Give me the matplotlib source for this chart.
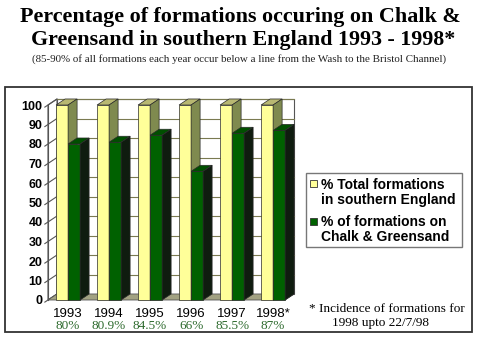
import matplotlib
matplotlib.use('Agg')
import matplotlib.pyplot as plt
from matplotlib.patches import Polygon, Rectangle
from matplotlib.lines import Line2D
from matplotlib.transforms import blended_transform_factory

# ---- data ----
years = ['1993', '1994', '1995', '1996', '1997', '1998*']
total_pct = [100, 100, 100, 100, 100, 100]
chalk_pct = [80, 80.9, 84.5, 66, 85.5, 87]
chalk_labels = ['80%', '80.9%', '84.5%', '66%', '85.5%', '87%']
yticks = list(range(0, 101, 10))
series_names = ['% Total formations\nin southern England',
                '% of formations on\nChalk & Greensand']

W, H = 480, 337
fig = plt.figure(figsize=(W / 100, H / 100), dpi=100)
fig.patch.set_facecolor('white')


def fx(px):
    return px / W


def fy(py):
    return 1 - py / H


SANS = 'Liberation Sans'
SERIF = 'Liberation Serif'

# ---- titles ----
fig.text(fx(240), fy(17), 'Percentage of formations occuring on Chalk &',
         ha='center', va='center', family=SERIF, weight='bold', fontsize=15.8)
fig.text(fx(243), fy(40), 'Greensand in southern England 1993 - 1998*',
         ha='center', va='center', family=SERIF, weight='bold', fontsize=15.8)
fig.text(fx(239), fy(59), '(85-90% of all formations each year occur below a line '
         'from the Wash to the Bristol Channel)',
         ha='center', va='center', family=SERIF, fontsize=7.9, color='#222222')

# ---- outer frame ----
fig.patches.append(Rectangle((fx(5), fy(332)), fx(472) - fx(5), fy(87) - fy(332),
                             transform=fig.transFigure, fill=False,
                             edgecolor='#333333', linewidth=1.3))

# ---- 3-D style column chart ----
ax = fig.add_axes([fx(48), fy(300), 237 / W, 195 / H])
xmin, xmax = -0.49, 5.29
ax.set_xlim(xmin, xmax)
ax.set_ylim(0, 100)
for s in ax.spines.values():
    s.set_visible(False)
ax.patch.set_visible(False)

# depth offset expressed in data units (9 px right, 6 px up)
ax_w_px = 237.0
ax_h_px = 195.0
dx = 9 * (xmax - xmin) / ax_w_px
dy = 6 * 100 / ax_h_px

edge = '#2a2a2a'
grid_c = '#7a7a50'

# back wall
ax.add_patch(Rectangle((xmin + dx, dy), xmax - xmin, 100, facecolor='white',
                       edgecolor='#555555', linewidth=0.8, zorder=1, clip_on=False))
# side wall
ax.add_patch(Polygon([(xmin, 0), (xmin + dx, dy), (xmin + dx, 100 + dy), (xmin, 100)],
                     closed=True, facecolor='white', edgecolor='#555555',
                     linewidth=0.8, zorder=1, clip_on=False))
# floor
ax.add_patch(Polygon([(xmin, 0), (xmax, 0), (xmax + dx, dy), (xmin + dx, dy)],
                     closed=True, facecolor='#a2a282', edgecolor='#555555',
                     linewidth=0.6, zorder=1.5, clip_on=False))

# gridlines on back wall and side wall
for t in yticks[1:]:
    ax.add_line(Line2D([xmin + dx, xmax + dx], [t + dy, t + dy], color=grid_c,
                       linewidth=0.8, zorder=1.2, clip_on=False))
for t in yticks:
    ax.add_line(Line2D([xmin - 0.35 * dx, xmin + dx], [t - 0.35 * dy, t + dy],
                       color='#555555', linewidth=0.8, zorder=1.2, clip_on=False))
ax.add_line(Line2D([xmin, xmin], [0, 100], color='#555555', linewidth=0.8,
                   zorder=1.2, clip_on=False))

bw = 0.293


def bar3d(x0, val, front, top, side):
    x1 = x0 + bw
    ax.add_patch(Polygon([(x0, 0), (x1, 0), (x1, val), (x0, val)], closed=True,
                         facecolor=front, edgecolor=edge, linewidth=0.5,
                         zorder=3, clip_on=False))
    ax.add_patch(Polygon([(x0, val), (x1, val), (x1 + dx, val + dy), (x0 + dx, val + dy)],
                         closed=True, facecolor=top, edgecolor=edge, linewidth=0.5,
                         zorder=3, clip_on=False))
    ax.add_patch(Polygon([(x1, 0), (x1 + dx, dy), (x1 + dx, val + dy), (x1, val)],
                         closed=True, facecolor=side, edgecolor=edge, linewidth=0.5,
                         zorder=3, clip_on=False))


for i in range(len(years)):
    bar3d(i - bw, total_pct[i], '#ffff99', '#b8b872', '#7f8a4f')
    bar3d(i, chalk_pct[i], '#006100', '#004f00', '#0f1c0f')

ax.set_yticks(yticks)
ax.set_yticklabels([str(t) for t in yticks], family=SANS, weight='bold', fontsize=9)
ax.tick_params(axis='y', length=0, pad=4)
ax.set_xticks(range(len(years)))
ax.set_xticklabels(years, family=SANS, fontsize=9.5)
ax.tick_params(axis='x', length=0, pad=6)

bt = blended_transform_factory(ax.transData, fig.transFigure)
for i, lab in enumerate(chalk_labels):
    ax.text(i, fy(326), lab, transform=bt, ha='center', va='center',
            family=SERIF, fontsize=9.5, color='#2e6b2e')

# ---- legend ----
lx0, ly0, lx1, ly1 = 306, 173, 462, 247
fig.patches.append(Rectangle((fx(lx0), fy(ly1)), fx(lx1) - fx(lx0), fy(ly0) - fy(ly1),
                             transform=fig.transFigure, facecolor='white',
                             edgecolor='#777777', linewidth=1.0))
for (ytxt, ysq), name, col in zip([(192.5, 184), (229.5, 221)], series_names,
                                  ['#ffff99', '#006100']):
    fig.patches.append(Rectangle((fx(310), fy(ysq + 3.5)), 7 / W, 7 / H,
                                 transform=fig.transFigure, facecolor=col,
                                 edgecolor='#333333', linewidth=0.6))
    fig.text(fx(321), fy(ytxt), name, ha='left', va='center', family=SANS,
             weight='bold', fontsize=10, linespacing=1.1)

# ---- footnote ----
fig.text(fx(387), fy(309), '* Incidence of formations for', ha='center',
         va='center', family=SERIF, fontsize=9.5)
fig.text(fx(380), fy(323), '1998 upto 22/7/98', ha='center',
         va='center', family=SERIF, fontsize=9.5)

fig.savefig('out.png', dpi=100)
